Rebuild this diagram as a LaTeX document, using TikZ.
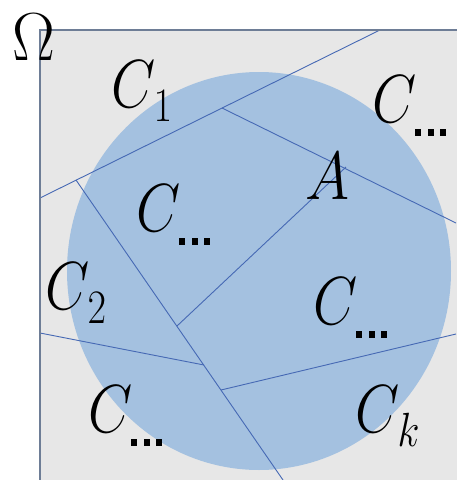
\RequirePackage{fix-cm}
\documentclass[tikz,border=0pt]{standalone}
\usepackage{amsmath}
\definecolor{bggray}{RGB}{231,231,231}
\definecolor{diskblue}{RGB}{164,193,224}
\definecolor{cutblue}{RGB}{70,105,180}
\definecolor{frame}{RGB}{110,125,150}
\newcommand{\subx}[1]{\kern-2pt\raisebox{-14pt}{\fontsize{48}{50}\selectfont$#1$}}
\newcommand{\sdots}{\hbox{\kern1pt\rule{7pt}{7pt}\kern7.5pt\rule{7pt}{7pt}\kern7.5pt\rule{7pt}{7pt}}}
\begin{document}
\begin{tikzpicture}[x=1pt,y=-1pt,
  cut/.style={draw=cutblue,line width=0.9pt},
  lab/.style={inner sep=0pt,anchor=base west,xscale=0.84,
    font=\fontsize{68}{80}\selectfont}]
\useasboundingbox (0,0) rectangle (456,480);
% domain
\fill[bggray] (40,30) rectangle (470,495);
% set A
\fill[diskblue] (259,271) ellipse [x radius=192, y radius=199];
% partition points
\coordinate (l1a) at (40,198);
\coordinate (l1b) at (380,30);
\coordinate (p1) at (222,108);
\coordinate (r1) at (456,223);
\coordinate (p2) at (76,180);
\coordinate (b1) at (283,480);
\coordinate (p3) at (177,326);
\coordinate (p4) at (346,167);
\coordinate (p5) at (204,365);
\coordinate (l2) at (40,333);
\coordinate (p6) at (221,390);
\coordinate (r2) at (456,334);
\draw[cut] (l1a) -- (l1b);
\draw[cut] (p1) -- (r1);
\draw[cut] (p2) -- (b1);
\draw[cut] (p3) -- (p4);
\draw[cut] (l2) -- (p5);
\draw[cut] (p6) -- (r2);
% frame
\draw[frame,line width=1.2pt] (470,30) -- (40,30) -- (40,495);
% labels
\node[lab,xscale=1.12] (om) at (12,60) {$\Omega$};
\node[lab] (c1) at (111,107) {$C$\subx{1}};
\node[lab] (cd1) at (136,231) {$C$\subx{\sdots}};
\node[lab] (cd2) at (372,122) {$C$\subx{\sdots}};
\node[lab,xscale=1.05] (a) at (305,199) {$A$};
\node[lab] (c2) at (45,309) {$C$\subx{2}};
\node[lab] (cd3) at (88,432) {$C$\subx{\sdots}};
\node[lab] (cd4) at (313,324) {$C$\subx{\sdots}};
\node[lab] (ck) at (355,432) {$C$\subx{k}};
\end{tikzpicture}
\end{document}
